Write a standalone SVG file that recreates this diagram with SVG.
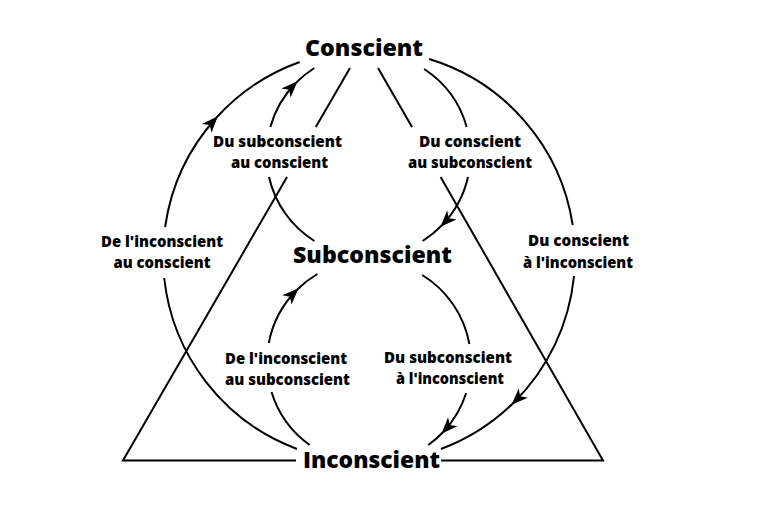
<svg xmlns="http://www.w3.org/2000/svg" width="759" height="505" viewBox="0 0 759 505">
<style>
  .ln { fill: none; stroke: #000; stroke-width: 2; stroke-linecap: butt; }
  .big { font-family: "Open Sans", "Liberation Sans", sans-serif; font-weight: 800; font-size: 22.5px; fill: #000; text-anchor: middle; }
  .lbl { font-family: "Open Sans", "Liberation Sans", sans-serif; font-weight: 800; font-size: 15.5px; fill: #000; text-anchor: middle; }
  .arw { marker-end: url(#arr); }
</style>
<defs>
  <marker id="arr" viewBox="-16 -8 19 16" refX="0" refY="0" markerWidth="19" markerHeight="16" markerUnits="userSpaceOnUse" orient="auto">
    <path d="M2.5,0 L-14,-6.5 L-9.5,0 L-14,6.5 Z" fill="#000"/>
  </marker>
</defs>
<rect width="759" height="505" fill="#fff"/>

<g id="triangle">
  <path class="ln" d="M350,68 L315.8,127"/>
  <path class="ln" d="M287,177 L123,460.5 L296,460.5"/>
  <path class="ln" d="M378,68 L412,127"/>
  <path class="ln" d="M440.6,177 L603,460.5 L441,460.5"/>
</g>

<g id="connectors">
  <g id="inconscient-to-conscient">
    <path class="ln" d="M297,449 A206,206 0 0 1 164.2,278"/>
    <path class="ln arw" d="M165.1,227 A206,206 0 0 1 216.1,118"/>
    <path class="ln" d="M216.1,118 A206,206 0 0 1 299.7,62"/>
    <text class="lbl" x="162" y="247" textLength="122" lengthAdjust="spacingAndGlyphs">De l'inconscient</text>
    <text class="lbl" x="162" y="268" textLength="97" lengthAdjust="spacingAndGlyphs">au conscient</text>
  </g>
  <g id="conscient-to-inconscient">
    <path class="ln" d="M429.2,59 A206,206 0 0 1 572.7,225"/>
    <path class="ln arw" d="M574,276 A206,206 0 0 1 513.3,403"/>
    <path class="ln" d="M513.3,403 A206,206 0 0 1 441,449"/>
    <text class="lbl" x="578.5" y="246" textLength="101" lengthAdjust="spacingAndGlyphs">Du conscient</text>
    <text class="lbl" x="578" y="268" textLength="110" lengthAdjust="spacingAndGlyphs">à l'inconscient</text>
  </g>
  <g id="subconscient-to-conscient">
    <path class="ln" d="M314.4,241 A102,102 0 0 1 269,177"/>
    <path class="ln arw" d="M270.3,127 A102,102 0 0 1 295.8,83"/>
    <path class="ln" d="M295.8,83 A102,102 0 0 1 314.4,68"/>
    <text class="lbl" x="277.5" y="147" textLength="129" lengthAdjust="spacingAndGlyphs">Du subconscient</text>
    <text class="lbl" x="279.5" y="168" textLength="97" lengthAdjust="spacingAndGlyphs">au conscient</text>
  </g>
  <g id="conscient-to-subconscient">
    <path class="ln" d="M424.1,69 A102,102 0 0 1 466.7,127"/>
    <path class="ln arw" d="M468,177 A102,102 0 0 1 442.2,225"/>
    <path class="ln" d="M442.2,225 A102,102 0 0 1 422.6,241"/>
    <text class="lbl" x="470" y="147" textLength="102" lengthAdjust="spacingAndGlyphs">Du conscient</text>
    <text class="lbl" x="470" y="168" textLength="124" lengthAdjust="spacingAndGlyphs">au subconscient</text>
  </g>
  <g id="inconscient-to-subconscient">
    <path class="ln" d="M309.7,445 A102,102 0 0 1 271.5,392"/>
    <path class="ln arw" d="M268.8,343 A102,102 0 0 1 296.8,290"/>
    <path class="ln" d="M296.8,290 A102,102 0 0 1 317.4,274"/>
    <text class="lbl" x="286" y="364" textLength="122" lengthAdjust="spacingAndGlyphs">De l'inconscient</text>
    <text class="lbl" x="287.5" y="385" textLength="125" lengthAdjust="spacingAndGlyphs">au subconscient</text>
  </g>
  <g id="subconscient-to-inconscient">
    <path class="ln" d="M422.2,275 A102,102 0 0 1 469.4,344"/>
    <path class="ln arw" d="M466.2,393 A102,102 0 0 1 443.2,432"/>
    <path class="ln" d="M443.2,432 A102,102 0 0 1 428.3,445"/>
    <text class="lbl" x="448" y="363" textLength="128" lengthAdjust="spacingAndGlyphs">Du subconscient</text>
    <text class="lbl" x="450" y="384" textLength="108" lengthAdjust="spacingAndGlyphs">à l'inconscient</text>
  </g>
</g>

<g id="conscient">
  <text class="big" x="364" y="56" textLength="118" lengthAdjust="spacingAndGlyphs">Conscient</text>
</g>
<g id="subconscient">
  <text class="big" x="372.5" y="263" textLength="159" lengthAdjust="spacingAndGlyphs">Subconscient</text>
</g>
<g id="inconscient">
  <text class="big" x="371.5" y="468" textLength="137" lengthAdjust="spacingAndGlyphs">Inconscient</text>
</g>
</svg>
